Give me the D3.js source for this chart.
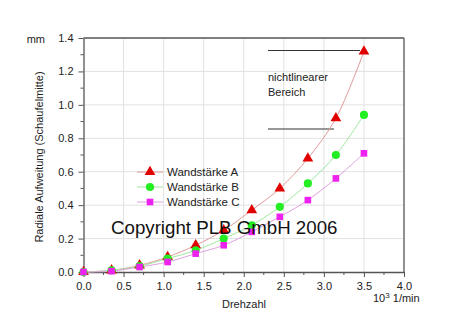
<!DOCTYPE html>
<html>
<head>
<meta charset="utf-8">
<script src="https://cdn.jsdelivr.net/npm/d3@7"></script>
<style>
  html, body { margin: 0; padding: 0; background: #fff; }
  svg { display: block; font-family: "Liberation Sans", Arial, sans-serif; }
</style>
</head>
<body>
<svg id="chart" width="469" height="328"></svg>
<script>
// Drehzahl in 10^3 1/min
const drehzahl = [0, 0.35, 0.7, 1.05, 1.4, 1.75, 2.1, 2.45, 2.8, 3.15, 3.5];
// Radiale Aufweitung in mm
const wandA = [0, 0.01, 0.04, 0.09, 0.16, 0.25, 0.37, 0.50, 0.68, 0.92, 1.32];
const wandB = [0, 0.01, 0.035, 0.08, 0.13, 0.20, 0.28, 0.39, 0.53, 0.70, 0.94];
const wandC = [0, 0.005, 0.03, 0.06, 0.11, 0.16, 0.24, 0.33, 0.43, 0.56, 0.71];
const seriesNames = ["Wandstärke A", "Wandstärke B", "Wandstärke C"];
const xTicks = [0, 0.5, 1, 1.5, 2, 2.5, 3, 3.5, 4];
const yTicks = [0, 0.2, 0.4, 0.6, 0.8, 1.0, 1.2, 1.4];

const svg = d3.select("#chart");
const plotLeft = 83.5, plotRight = 404, plotTop = 38, plotBottom = 272;

const x = d3.scaleLinear().domain([0, 4]).range([plotLeft, plotRight]);
const y = d3.scaleLinear().domain([0, 1.4]).range([plotBottom, plotTop]);

const axisColor = "#555";
const gridColor = "#e2e2e2";

// grid
svg.append("g").selectAll("line").data(xTicks.slice(1, -1)).join("line")
  .attr("x1", d => x(d)).attr("x2", d => x(d))
  .attr("y1", plotTop).attr("y2", plotBottom)
  .attr("stroke", gridColor).attr("stroke-width", 1);
svg.append("g").selectAll("line").data(yTicks.slice(1, -1)).join("line")
  .attr("x1", plotLeft).attr("x2", plotRight)
  .attr("y1", d => y(d)).attr("y2", d => y(d))
  .attr("stroke", gridColor).attr("stroke-width", 1);

// frame (top and right)
svg.append("line").attr("x1", plotLeft).attr("x2", plotRight).attr("y1", plotTop).attr("y2", plotTop)
  .attr("stroke", axisColor).attr("stroke-width", 1.3);
svg.append("line").attr("x1", plotRight).attr("x2", plotRight).attr("y1", plotTop).attr("y2", plotBottom)
  .attr("stroke", axisColor).attr("stroke-width", 1.3);

// minor ticks
const xMinor = d3.range(0.25, 4, 0.5);
const yMinor = d3.range(0.1, 1.4, 0.2);
svg.append("g").selectAll("line").data(xMinor).join("line")
  .attr("x1", d => x(d)).attr("x2", d => x(d))
  .attr("y1", plotBottom).attr("y2", plotBottom + 3)
  .attr("stroke", axisColor);
svg.append("g").selectAll("line").data(yMinor).join("line")
  .attr("x1", plotLeft - 3).attr("x2", plotLeft)
  .attr("y1", d => y(d)).attr("y2", d => y(d))
  .attr("stroke", axisColor);

// axes
const xAxis = d3.axisBottom(x).tickValues(xTicks).tickFormat(d3.format(".1f"))
  .tickSizeInner(5).tickSizeOuter(0).tickPadding(5);
const yAxis = d3.axisLeft(y).tickValues(yTicks).tickFormat(d3.format(".1f"))
  .tickSizeInner(5).tickSizeOuter(0).tickPadding(5);

const gx = svg.append("g").attr("transform", `translate(0,${plotBottom})`).call(xAxis);
const gy = svg.append("g").attr("transform", `translate(${plotLeft},0)`).call(yAxis);
[gx, gy].forEach(g => {
  g.selectAll("path").attr("stroke", axisColor).attr("stroke-width", 1.3);
  g.selectAll("line").attr("stroke", axisColor);
  g.selectAll("text").attr("fill", "#222").style("font-size", "11px")
    .style("font-family", "Liberation Sans, Arial, sans-serif");
});

// axis titles
svg.append("text").attr("x", 45).attr("y", 42.5).attr("text-anchor", "end")
  .style("font-size", "11px").attr("fill", "#222").text("mm");
svg.append("text")
  .attr("transform", `translate(43,${(plotTop + plotBottom) / 2 + 2}) rotate(-90)`)
  .attr("text-anchor", "middle").style("font-size", "11px").attr("fill", "#222")
  .text("Radiale Aufweitung (Schaufelmitte)");
svg.append("text").attr("x", 244).attr("y", 308).attr("text-anchor", "middle")
  .style("font-size", "11px").attr("fill", "#222").text("Drehzahl");
const unit = svg.append("text").attr("x", 373).attr("y", 302)
  .style("font-size", "11px").attr("fill", "#222");
unit.append("tspan").text("10");
unit.append("tspan").attr("dy", -4).style("font-size", "8px").text("3");
unit.append("tspan").attr("dy", 4).text(" 1/min");

// annotation
svg.append("line").attr("x1", 268).attr("x2", 360).attr("y1", 50.5).attr("y2", 50.5)
  .attr("stroke", "#333").attr("stroke-width", 1.2);
svg.append("line").attr("x1", 268).attr("x2", 334).attr("y1", 129).attr("y2", 129)
  .attr("stroke", "#333").attr("stroke-width", 1.2);
svg.append("text").attr("x", 268).attr("y", 80.5).style("font-size", "11px")
  .attr("fill", "#222").text("nichtlinearer");
svg.append("text").attr("x", 268).attr("y", 95.5).style("font-size", "11px")
  .attr("fill", "#222").text("Bereich");

// series
const series = [
  { name: seriesNames[0], values: wandA, line: "#e09a9a", fill: "#e00000", shape: d3.symbolTriangle, size: 50 },
  { name: seriesNames[1], values: wandB, line: "#9ee89e", fill: "#22ee22", shape: d3.symbolCircle, size: 52 },
  { name: seriesNames[2], values: wandC, line: "#e0a0e0", fill: "#ee22ee", shape: d3.symbolSquare, size: 44 }
];

const lineGen = d3.line().x(d => x(d[0])).y(d => y(d[1])).curve(d3.curveCatmullRom);

series.forEach(s => {
  const pts = drehzahl.map((d, i) => [d, s.values[i]]);
  svg.append("path").datum(pts).attr("d", lineGen)
    .attr("fill", "none").attr("stroke", s.line).attr("stroke-width", 1);
});
series.forEach(s => {
  const pts = drehzahl.map((d, i) => [d, s.values[i]]);
  svg.append("g").selectAll("path").data(pts).join("path")
    .attr("transform", d => `translate(${x(d[0])},${y(d[1])})`)
    .attr("d", d3.symbol().type(s.shape).size(s.size))
    .attr("fill", s.fill);
});

// legend
const legend = svg.append("g");
series.forEach((s, i) => {
  const ly = 172 + i * 15;
  legend.append("line").attr("x1", 137).attr("x2", 163).attr("y1", ly).attr("y2", ly)
    .attr("stroke", s.line).attr("stroke-width", 1);
  legend.append("path").attr("transform", `translate(150,${ly})`)
    .attr("d", d3.symbol().type(s.shape).size(s.size)).attr("fill", s.fill);
  legend.append("text").attr("x", 167).attr("y", ly + 4).style("font-size", "11.5px")
    .attr("fill", "#222").text(s.name);
});

// copyright notice
svg.append("text").attr("x", 111).attr("y", 234).style("font-size", "18.7px")
  .attr("fill", "#111").text("Copyright PLB GmbH 2006");
</script>
</body>
</html>
